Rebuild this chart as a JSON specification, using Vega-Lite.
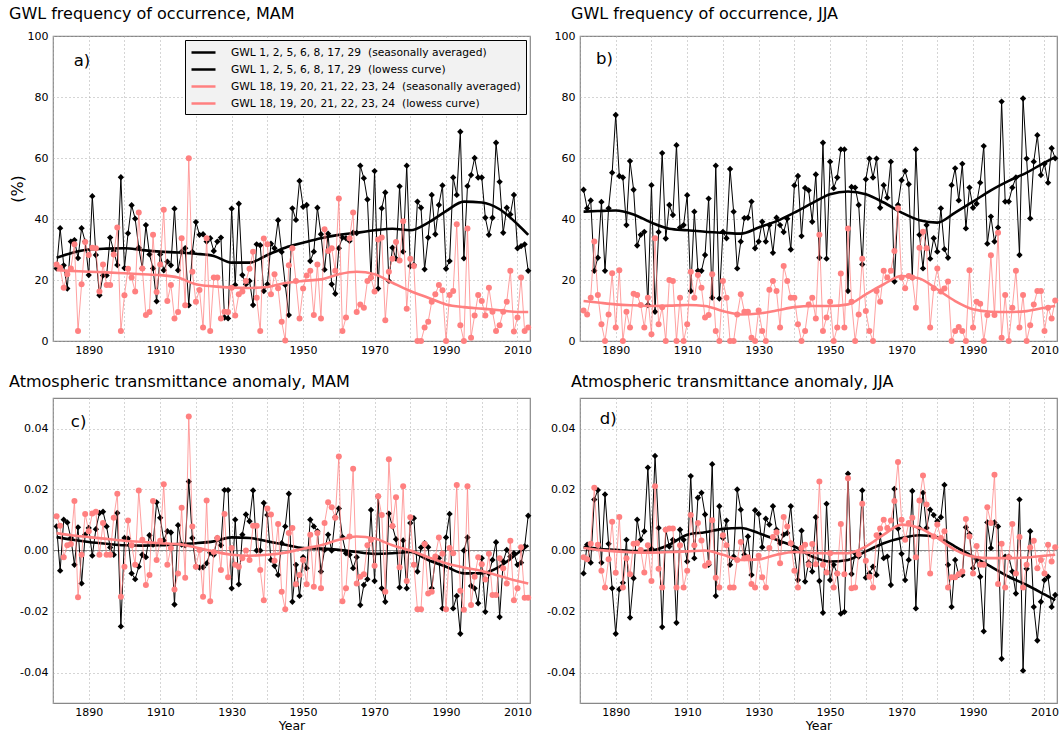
{
"$schema":"https://vega.github.io/schema/vega-lite/v6.json",
"padding":{"left":8,"top":5,"right":2,"bottom":0},
"config":{"font":"DejaVu Sans","view":{"stroke":"#888888","strokeWidth":1.2},
"axis":{"grid":true,"gridDash":[1,3],"gridColor":"#aaaaaa","gridWidth":1,"domain":false,"ticks":false,"labelFontSize":11,"labelColor":"#000000","titleColor":"#000000","titleFontWeight":"normal","labelPadding":5,"labelOverlap":false,"labelFlush":false},
"title":{"fontSize":16,"fontWeight":"normal","anchor":"start","frame":"group","offset":8,"color":"#000000"}},
"columns":2,
"spacing":{"row":57,"column":50},
"bounds":"flush",
"resolve":{"scale":{"color":"independent"},"legend":{"color":"independent"}},
"datasets":{
"a":[{"year":1881,"k":23.8,"r":25.1},{"year":1882,"k":37,"r":24},{"year":1883,"k":24.8,"r":17.5},{"year":1884,"k":17.2,"r":21.9},{"year":1885,"k":32.6,"r":23.8},{"year":1886,"k":33.1,"r":31.7},{"year":1887,"k":27.2,"r":3.3},{"year":1888,"k":37,"r":18.6},{"year":1889,"k":32.6,"r":32.5},{"year":1890,"k":21.6,"r":28.2},{"year":1891,"k":47.5,"r":30.6},{"year":1892,"k":28.2,"r":30.4},{"year":1893,"k":15,"r":16.2},{"year":1894,"k":21.5,"r":25.1},{"year":1895,"k":21.5,"r":18.4},{"year":1896,"k":33.9,"r":18.4},{"year":1897,"k":29.5,"r":28.4},{"year":1898,"k":24.9,"r":37.2},{"year":1899,"k":53.7,"r":3.3},{"year":1900,"k":23.9,"r":15},{"year":1901,"k":35.3,"r":23.7},{"year":1902,"k":44.5,"r":20.8},{"year":1903,"k":40.1,"r":16.2},{"year":1904,"k":30.6,"r":42.1},{"year":1905,"k":23.8,"r":23.8},{"year":1906,"k":38,"r":8.5},{"year":1907,"k":28.4,"r":9.5},{"year":1908,"k":23.8,"r":34.8},{"year":1909,"k":13,"r":16.1},{"year":1910,"k":28.4,"r":25.1},{"year":1911,"k":23.2,"r":43},{"year":1912,"k":26,"r":13.1},{"year":1913,"k":24.8,"r":18.4},{"year":1914,"k":43.4,"r":7.4},{"year":1915,"k":23.2,"r":9.5},{"year":1916,"k":29.3,"r":33.7},{"year":1917,"k":30.4,"r":11.7},{"year":1918,"k":11.7,"r":59.9},{"year":1919,"k":29.2,"r":22.7},{"year":1920,"k":39,"r":12.9},{"year":1921,"k":34.8,"r":16.7},{"year":1922,"k":35,"r":4.4},{"year":1923,"k":32.6,"r":33.7},{"year":1924,"k":33.7,"r":3.3},{"year":1925,"k":29.5,"r":20.8},{"year":1926,"k":32.6,"r":20.8},{"year":1927,"k":33.9,"r":7.4},{"year":1928,"k":7.7,"r":9.6},{"year":1929,"k":7.4,"r":9.5},{"year":1930,"k":43.4,"r":17.5},{"year":1931,"k":18.4,"r":8.4},{"year":1932,"k":45,"r":15.3},{"year":1933,"k":21.6,"r":16.2},{"year":1934,"k":18.6,"r":19.7},{"year":1935,"k":19.7,"r":23.7},{"year":1936,"k":11.8,"r":29.3},{"year":1937,"k":31.7,"r":14.2},{"year":1938,"k":31.4,"r":3.3},{"year":1939,"k":16.4,"r":33.6},{"year":1940,"k":18.6,"r":31.7},{"year":1941,"k":31.9,"r":15.3},{"year":1942,"k":30.4,"r":21.9},{"year":1943,"k":39.6,"r":17.3},{"year":1944,"k":29.2,"r":6.3},{"year":1945,"k":18.4,"r":0.2},{"year":1946,"k":8.5,"r":24.8},{"year":1947,"k":43.5,"r":30.4},{"year":1948,"k":39.7,"r":19.7},{"year":1949,"k":52.5,"r":7.4},{"year":1950,"k":44,"r":17.2},{"year":1951,"k":44.6,"r":21.5},{"year":1952,"k":26.2,"r":23},{"year":1953,"k":29.3,"r":8.5},{"year":1954,"k":43.7,"r":25.1},{"year":1955,"k":35,"r":7.4},{"year":1956,"k":23.4,"r":36.6},{"year":1957,"k":35.2,"r":29.5},{"year":1958,"k":18.6,"r":30.4},{"year":1959,"k":15.5,"r":23},{"year":1960,"k":30.4,"r":46.7},{"year":1961,"k":33.9,"r":3.3},{"year":1962,"k":33.7,"r":7.7},{"year":1963,"k":32.8,"r":33.7},{"year":1964,"k":35.5,"r":42.1},{"year":1965,"k":35.4,"r":9.5},{"year":1966,"k":57.5,"r":12},{"year":1967,"k":53.4,"r":10.9},{"year":1968,"k":46.4,"r":19.7},{"year":1969,"k":20.7,"r":20.8},{"year":1970,"k":55.7,"r":16.2},{"year":1971,"k":17.2,"r":33.3},{"year":1972,"k":43.5,"r":33.9},{"year":1973,"k":48.7,"r":6.8},{"year":1974,"k":19.7,"r":22.7},{"year":1975,"k":30.6,"r":27},{"year":1976,"k":27,"r":32.5},{"year":1977,"k":50.7,"r":26.4},{"year":1978,"k":29.3,"r":39.3},{"year":1979,"k":57.5,"r":10.6},{"year":1980,"k":24.6,"r":27},{"year":1981,"k":24.9,"r":24.6},{"year":1982,"k":45.7,"r":0},{"year":1983,"k":43.7,"r":0},{"year":1984,"k":23.5,"r":4.4},{"year":1985,"k":33.9,"r":6.3},{"year":1986,"k":47.9,"r":12.9},{"year":1987,"k":35,"r":15.3},{"year":1988,"k":44.6,"r":18.4},{"year":1989,"k":51,"r":16.6},{"year":1990,"k":23.7,"r":0},{"year":1991,"k":26.2,"r":15.1},{"year":1992,"k":53.6,"r":16.4},{"year":1993,"k":47.9,"r":38.3},{"year":1994,"k":68.6,"r":5.2},{"year":1995,"k":27.1,"r":0},{"year":1996,"k":50.8,"r":36.9},{"year":1997,"k":54.4,"r":1.1},{"year":1998,"k":60,"r":8.4},{"year":1999,"k":53.6,"r":15.1},{"year":2000,"k":53.6,"r":13.1},{"year":2001,"k":40.4,"r":8.4},{"year":2002,"k":34.8,"r":17.5},{"year":2003,"k":40.4,"r":9.6},{"year":2004,"k":65,"r":3.3},{"year":2005,"k":52.2,"r":5.2},{"year":2006,"k":35.5,"r":9.6},{"year":2007,"k":43.7,"r":12.9},{"year":2008,"k":41.5,"r":23},{"year":2009,"k":47.9,"r":3.1},{"year":2010,"k":30.4,"r":7.7},{"year":2011,"k":31.1,"r":20.8},{"year":2012,"k":31.7,"r":3.3},{"year":2013,"k":23,"r":4.4}],
"b":[{"year":1881,"k":49.6,"r":10},{"year":1882,"k":43.5,"r":8.7},{"year":1883,"k":46.1,"r":14.2},{"year":1884,"k":23,"r":32.6},{"year":1885,"k":27.3,"r":15.1},{"year":1886,"k":45.6,"r":5.5},{"year":1887,"k":23,"r":0},{"year":1888,"k":43.5,"r":8.7},{"year":1889,"k":55.2,"r":22.2},{"year":1890,"k":74.1,"r":4.4},{"year":1891,"k":54.1,"r":23.2},{"year":1892,"k":53.6,"r":0},{"year":1893,"k":38,"r":9.6},{"year":1894,"k":59,"r":4.4},{"year":1895,"k":49.6,"r":15.5},{"year":1896,"k":31.3,"r":15.1},{"year":1897,"k":34.8,"r":11.8},{"year":1898,"k":35.8,"r":4.4},{"year":1899,"k":11.8,"r":14.2},{"year":1900,"k":51.1,"r":2.2},{"year":1901,"k":9.6,"r":33.7},{"year":1902,"k":35.7,"r":5.5},{"year":1903,"k":61.6,"r":11.1},{"year":1904,"k":33.6,"r":0},{"year":1905,"k":44.6,"r":20},{"year":1906,"k":41.3,"r":19.7},{"year":1907,"k":64.2,"r":0},{"year":1908,"k":37.2,"r":14.2},{"year":1909,"k":38,"r":0},{"year":1910,"k":47.8,"r":5.5},{"year":1911,"k":16.4,"r":22.7},{"year":1912,"k":42.4,"r":14.2},{"year":1913,"k":23,"r":21.6},{"year":1914,"k":23,"r":17.5},{"year":1915,"k":28.2,"r":7.7},{"year":1916,"k":46.7,"r":8.5},{"year":1917,"k":14.2,"r":21.9},{"year":1918,"k":57.5,"r":3.3},{"year":1919,"k":13.9,"r":0},{"year":1920,"k":35.8,"r":19.7},{"year":1921,"k":33.7,"r":14.2},{"year":1922,"k":56.4,"r":0},{"year":1923,"k":42.4,"r":0},{"year":1924,"k":23.8,"r":8.7},{"year":1925,"k":32.6,"r":15.3},{"year":1926,"k":40.3,"r":9.6},{"year":1927,"k":40.4,"r":9.6},{"year":1928,"k":45.7,"r":1.1},{"year":1929,"k":30.4,"r":0},{"year":1930,"k":32.6,"r":10},{"year":1931,"k":39.1,"r":3.3},{"year":1932,"k":32.6,"r":0},{"year":1933,"k":38,"r":16.8},{"year":1934,"k":28.9,"r":19.7},{"year":1935,"k":40.4,"r":16.4},{"year":1936,"k":38,"r":4.4},{"year":1937,"k":35.7,"r":24.6},{"year":1938,"k":40.1,"r":19.7},{"year":1939,"k":30,"r":14.2},{"year":1940,"k":51,"r":14.2},{"year":1941,"k":54.1,"r":5.5},{"year":1942,"k":34.4,"r":0},{"year":1943,"k":50.2,"r":3.3},{"year":1944,"k":49.4,"r":12},{"year":1945,"k":39.1,"r":14.2},{"year":1946,"k":54.6,"r":7.4},{"year":1947,"k":27.3,"r":34.8},{"year":1948,"k":65,"r":3.3},{"year":1949,"k":27,"r":7.7},{"year":1950,"k":58.8,"r":12.9},{"year":1951,"k":50.1,"r":0},{"year":1952,"k":53.6,"r":4.4},{"year":1953,"k":62.8,"r":22.1},{"year":1954,"k":62.8,"r":4.4},{"year":1955,"k":16.4,"r":36.9},{"year":1956,"k":50.5,"r":12.9},{"year":1957,"k":50.3,"r":0},{"year":1958,"k":44.6,"r":8.7},{"year":1959,"k":25.1,"r":27},{"year":1960,"k":53,"r":9.8},{"year":1961,"k":59.8,"r":3.3},{"year":1962,"k":53.6,"r":0},{"year":1963,"k":59.8,"r":16.4},{"year":1964,"k":43.7,"r":12.9},{"year":1965,"k":51.1,"r":23},{"year":1966,"k":47,"r":20.8},{"year":1967,"k":58.8,"r":23},{"year":1968,"k":19.5,"r":29.5},{"year":1969,"k":44.6,"r":43.5},{"year":1970,"k":52.7,"r":20.8},{"year":1971,"k":55.7,"r":17.3},{"year":1972,"k":51.4,"r":21.3},{"year":1973,"k":20.8,"r":20.8},{"year":1974,"k":62.8,"r":10.9},{"year":1975,"k":34.8,"r":30.6},{"year":1976,"k":23.8,"r":35.8},{"year":1977,"k":38,"r":30.4},{"year":1978,"k":27,"r":4.4},{"year":1979,"k":33.7,"r":17.3},{"year":1980,"k":29.3,"r":23.8},{"year":1981,"k":43.5,"r":16.2},{"year":1982,"k":30.1,"r":17.2},{"year":1983,"k":27.3,"r":19.5},{"year":1984,"k":51.1,"r":0},{"year":1985,"k":56.6,"r":3.3},{"year":1986,"k":46.1,"r":4.6},{"year":1987,"k":58.1,"r":3.3},{"year":1988,"k":36.9,"r":0},{"year":1989,"k":50.3,"r":23.2},{"year":1990,"k":43.7,"r":4.4},{"year":1991,"k":45,"r":12.9},{"year":1992,"k":51.9,"r":12.2},{"year":1993,"k":63.9,"r":0},{"year":1994,"k":31.9,"r":8.5},{"year":1995,"k":40.8,"r":28.1},{"year":1996,"k":32.6,"r":8.5},{"year":1997,"k":37.2,"r":35.5},{"year":1998,"k":78.5,"r":1.1},{"year":1999,"k":45.7,"r":15.1},{"year":2000,"k":45.7,"r":0},{"year":2001,"k":50.3,"r":10.9},{"year":2002,"k":53.6,"r":23},{"year":2003,"k":28.2,"r":4.4},{"year":2004,"k":79.5,"r":15.1},{"year":2005,"k":59.8,"r":0},{"year":2006,"k":40.2,"r":5.2},{"year":2007,"k":58.8,"r":12},{"year":2008,"k":67.5,"r":16.4},{"year":2009,"k":54.4,"r":16.4},{"year":2010,"k":58.1,"r":3.3},{"year":2011,"k":51.9,"r":10.9},{"year":2012,"k":63.2,"r":7.4},{"year":2013,"k":59.9,"r":13.3}],
"c":[{"year":1881,"k":0.0079,"r":0.0112},{"year":1882,"k":-0.0066,"r":0.0081},{"year":1883,"k":0.0101,"r":-0.0022},{"year":1884,"k":0.0092,"r":0.0017},{"year":1885,"k":0.0041,"r":0.0021},{"year":1886,"k":-0.0047,"r":0.0162},{"year":1887,"k":0.0076,"r":-0.0153},{"year":1888,"k":-0.0108,"r":-0.0014},{"year":1889,"k":0.0052,"r":0.012},{"year":1890,"k":0.0074,"r":0.0063},{"year":1891,"k":-0.0017,"r":0.0121},{"year":1892,"k":0.007,"r":0.0127},{"year":1893,"k":0.0123,"r":-0.0014},{"year":1894,"k":0.0127,"r":0.009},{"year":1895,"k":0.0079,"r":-0.0014},{"year":1896,"k":0.001,"r":-0.0014},{"year":1897,"k":-0.0014,"r":0.0107},{"year":1898,"k":0.0123,"r":0.0186},{"year":1899,"k":-0.0249,"r":-0.0152},{"year":1900,"k":0.0041,"r":-0.0053},{"year":1901,"k":0.0039,"r":0.0098},{"year":1902,"k":-0.0075,"r":0.0017},{"year":1903,"k":-0.0094,"r":-0.0047},{"year":1904,"k":-0.0053,"r":0.0197},{"year":1905,"k":-0.0014,"r":0.0035},{"year":1906,"k":-0.0022,"r":-0.0113},{"year":1907,"k":0.005,"r":-0.008},{"year":1908,"k":0.0019,"r":0.0162},{"year":1909,"k":0.0158,"r":-0.0031},{"year":1910,"k":0.0107,"r":0.0032},{"year":1911,"k":0.0033,"r":0.0217},{"year":1912,"k":0.0063,"r":-0.0047},{"year":1913,"k":0.0059,"r":0.0008},{"year":1914,"k":-0.0177,"r":-0.0128},{"year":1915,"k":0.0083,"r":-0.0075},{"year":1916,"k":0.0019,"r":0.014},{"year":1917,"k":0.0017,"r":-0.0089},{"year":1918,"k":0.0226,"r":0.0439},{"year":1919,"k":0.0041,"r":0.0079},{"year":1920,"k":-0.0053,"r":-0.0053},{"year":1921,"k":-0.0056,"r":0.0002},{"year":1922,"k":-0.0055,"r":-0.0152},{"year":1923,"k":-0.0042,"r":0.0164},{"year":1924,"k":-0.0007,"r":-0.0166},{"year":1925,"k":-0.0014,"r":-0.0005},{"year":1926,"k":0.0041,"r":0.0041},{"year":1927,"k":0.0017,"r":-0.0064},{"year":1928,"k":0.0198,"r":0.012},{"year":1929,"k":0.0198,"r":-0.0088},{"year":1930,"k":-0.0124,"r":0.0008},{"year":1931,"k":0.0101,"r":-0.0047},{"year":1932,"k":-0.0111,"r":-0.0053},{"year":1933,"k":0.0052,"r":-0.0025},{"year":1934,"k":0.0118,"r":0},{"year":1935,"k":0.0096,"r":-0.0031},{"year":1936,"k":0.0197,"r":0.0081},{"year":1937,"k":0,"r":0.0081},{"year":1938,"k":0,"r":-0.0064},{"year":1939,"k":0.0156,"r":-0.0163},{"year":1940,"k":0.0116,"r":0.0138},{"year":1941,"k":-0.0031,"r":0.0118},{"year":1942,"k":-0.005,"r":-0.0034},{"year":1943,"k":-0.008,"r":0.0087},{"year":1944,"k":0.0024,"r":-0.0135},{"year":1945,"k":0.0079,"r":-0.0193},{"year":1946,"k":0.0186,"r":0.0057},{"year":1947,"k":-0.0168,"r":0.0074},{"year":1948,"k":-0.0047,"r":-0.0111},{"year":1949,"k":-0.0149,"r":-0.008},{"year":1950,"k":-0.0022,"r":-0.0031},{"year":1951,"k":-0.0058,"r":-0.0111},{"year":1952,"k":0.0101,"r":0.0052},{"year":1953,"k":0.0079,"r":-0.0119},{"year":1954,"k":0.0063,"r":0.0057},{"year":1955,"k":-0.0069,"r":-0.0124},{"year":1956,"k":0.0002,"r":0.009},{"year":1957,"k":0.0052,"r":0.0158},{"year":1958,"k":0,"r":0.0142},{"year":1959,"k":0.0109,"r":0.0107},{"year":1960,"k":0.0138,"r":0.0308},{"year":1961,"k":0.0044,"r":-0.0166},{"year":1962,"k":-0.0009,"r":-0.0124},{"year":1963,"k":-0.0014,"r":0.0046},{"year":1964,"k":-0.0058,"r":0.0268},{"year":1965,"k":-0.0022,"r":-0.0108},{"year":1966,"k":-0.0179,"r":-0.0086},{"year":1967,"k":-0.0113,"r":-0.0078},{"year":1968,"k":-0.0094,"r":0.0017},{"year":1969,"k":0.0133,"r":0.0035},{"year":1970,"k":-0.01,"r":-0.005},{"year":1971,"k":0.0177,"r":0.0178},{"year":1972,"k":-0.0124,"r":0.0116},{"year":1973,"k":-0.0168,"r":-0.0135},{"year":1974,"k":0.0121,"r":0.0299},{"year":1975,"k":0.0079,"r":0.008},{"year":1976,"k":0.0037,"r":0.0175},{"year":1977,"k":-0.0121,"r":-0.0055},{"year":1978,"k":0.0033,"r":0.0211},{"year":1979,"k":-0.0124,"r":-0.01},{"year":1980,"k":0.009,"r":0.0109},{"year":1981,"k":0.0106,"r":-0.0047},{"year":1982,"k":-0.0069,"r":-0.0193},{"year":1983,"k":0.001,"r":-0.0193},{"year":1984,"k":0.0024,"r":0.0021},{"year":1985,"k":0.0011,"r":-0.0141},{"year":1986,"k":-0.0124,"r":-0.0135},{"year":1987,"k":-0.0031,"r":-0.002},{"year":1988,"k":-0.0025,"r":0.0043},{"year":1989,"k":-0.019,"r":-0.0011},{"year":1990,"k":0.0043,"r":-0.0193},{"year":1991,"k":0.012,"r":0.0008},{"year":1992,"k":-0.019,"r":-0.0009},{"year":1993,"k":-0.0149,"r":0.0215},{"year":1994,"k":-0.0273,"r":-0.0132},{"year":1995,"k":0,"r":-0.0194},{"year":1996,"k":0.0043,"r":0.0211},{"year":1997,"k":-0.0116,"r":-0.0179},{"year":1998,"k":-0.0124,"r":-0.0086},{"year":1999,"k":-0.0173,"r":-0.0022},{"year":2000,"k":-0.0025,"r":-0.0045},{"year":2001,"k":-0.0201,"r":-0.0095},{"year":2002,"k":-0.0075,"r":-0.0011},{"year":2003,"k":-0.0031,"r":-0.0146},{"year":2004,"k":0.0027,"r":-0.0146},{"year":2005,"k":-0.0218,"r":-0.0025},{"year":2006,"k":-0.0036,"r":-0.0058},{"year":2007,"k":0.0002,"r":-0.0108},{"year":2008,"k":-0.002,"r":0.0032},{"year":2009,"k":-0.0009,"r":-0.0163},{"year":2010,"k":-0.0047,"r":-0.0124},{"year":2011,"k":-0.004,"r":0.0011},{"year":2012,"k":0.0013,"r":-0.0155},{"year":2013,"k":0.0114,"r":-0.0155}],
"d":[{"year":1881,"k":-0.0075,"r":-0.0022},{"year":1882,"k":0.0019,"r":-0.0029},{"year":1883,"k":-0.004,"r":0.0022},{"year":1884,"k":0.0167,"r":0.0206},{"year":1885,"k":0.0198,"r":0.0019},{"year":1886,"k":-0.004,"r":-0.0066},{"year":1887,"k":0.0184,"r":-0.0121},{"year":1888,"k":0.0022,"r":-0.0029},{"year":1889,"k":-0.0124,"r":0.0094},{"year":1890,"k":-0.0273,"r":-0.0073},{"year":1891,"k":-0.0127,"r":0.011},{"year":1892,"k":-0.0106,"r":-0.0121},{"year":1893,"k":0.0035,"r":-0.0025},{"year":1894,"k":-0.022,"r":-0.0078},{"year":1895,"k":-0.0091,"r":0.0022},{"year":1896,"k":0.0101,"r":0.0024},{"year":1897,"k":0.0035,"r":0.0002},{"year":1898,"k":0.0063,"r":-0.0072},{"year":1899,"k":0.0272,"r":0.0017},{"year":1900,"k":0.0006,"r":-0.01},{"year":1901,"k":0.031,"r":0.0211},{"year":1902,"k":0.0074,"r":-0.006},{"year":1903,"k":-0.0251,"r":-0.0121},{"year":1904,"k":0.0068,"r":0.0068},{"year":1905,"k":0.0013,"r":0.0072},{"year":1906,"k":0.0035,"r":0.0072},{"year":1907,"k":-0.0237,"r":-0.0121},{"year":1908,"k":0.0068,"r":0.0017},{"year":1909,"k":0.0035,"r":-0.0121},{"year":1910,"k":-0.0036,"r":-0.0066},{"year":1911,"k":0.0244,"r":0.0116},{"year":1912,"k":-0.0025,"r":0.0017},{"year":1913,"k":0.0173,"r":0.009},{"year":1914,"k":0.0189,"r":0.0033},{"year":1915,"k":0.0118,"r":-0.005},{"year":1916,"k":-0.0047,"r":-0.0041},{"year":1917,"k":0.0283,"r":0.0099},{"year":1918,"k":-0.0149,"r":-0.0089},{"year":1919,"k":0.0145,"r":-0.0121},{"year":1920,"k":0.0041,"r":0.005},{"year":1921,"k":0.0098,"r":0.0017},{"year":1922,"k":-0.0047,"r":-0.0121},{"year":1923,"k":-0.002,"r":-0.0121},{"year":1924,"k":0.02,"r":-0.0031},{"year":1925,"k":0.0134,"r":0.0028},{"year":1926,"k":-0.0014,"r":-0.0025},{"year":1927,"k":0.0046,"r":-0.0022},{"year":1928,"k":-0.008,"r":-0.011},{"year":1929,"k":0.0132,"r":-0.0121},{"year":1930,"k":0.012,"r":-0.0017},{"year":1931,"k":0.0011,"r":-0.0088},{"year":1932,"k":0.0104,"r":-0.0121},{"year":1933,"k":0.0085,"r":0.0008},{"year":1934,"k":0.0145,"r":0.0044},{"year":1935,"k":0.0068,"r":0.006},{"year":1936,"k":0.0024,"r":-0.0042},{"year":1937,"k":0.0052,"r":0.011},{"year":1938,"k":0.0057,"r":0.0079},{"year":1939,"k":0.0145,"r":0.0024},{"year":1940,"k":-0.0003,"r":-0.0066},{"year":1941,"k":-0.0097,"r":-0.0121},{"year":1942,"k":0.0065,"r":0.0008},{"year":1943,"k":-0.0102,"r":0.0019},{"year":1944,"k":-0.0039,"r":-0.0047},{"year":1945,"k":-0.0069,"r":0.0021},{"year":1946,"k":0.0109,"r":-0.0045},{"year":1947,"k":-0.01,"r":0.0226},{"year":1948,"k":-0.0204,"r":-0.0047},{"year":1949,"k":0.0153,"r":-0.0072},{"year":1950,"k":-0.0097,"r":-0.0009},{"year":1951,"k":-0.0047,"r":-0.0121},{"year":1952,"k":-0.0075,"r":-0.0075},{"year":1953,"k":-0.0207,"r":0.0087},{"year":1954,"k":-0.0201,"r":-0.0078},{"year":1955,"k":0.0252,"r":0.0237},{"year":1956,"k":-0.0077,"r":-0.0124},{"year":1957,"k":-0.0009,"r":-0.0121},{"year":1958,"k":-0.002,"r":-0.0012},{"year":1959,"k":0.0197,"r":0.0153},{"year":1960,"k":-0.0089,"r":-0.0034},{"year":1961,"k":-0.0075,"r":-0.0086},{"year":1962,"k":-0.0053,"r":-0.0121},{"year":1963,"k":-0.008,"r":0.005},{"year":1964,"k":0.005,"r":0.0072},{"year":1965,"k":-0.0025,"r":0.0101},{"year":1966,"k":-0.002,"r":0.0074},{"year":1967,"k":-0.0113,"r":0.0098},{"year":1968,"k":0.0202,"r":0.0162},{"year":1969,"k":0.0072,"r":0.029},{"year":1970,"k":-0.0011,"r":0.0101},{"year":1971,"k":-0.0097,"r":0.0035},{"year":1972,"k":-0.0031,"r":0.009},{"year":1973,"k":0.0195,"r":0.0107},{"year":1974,"k":-0.019,"r":-0.0022},{"year":1975,"k":0.0074,"r":0.0164},{"year":1976,"k":0.0189,"r":0.0246},{"year":1977,"k":0.0074,"r":0.0151},{"year":1978,"k":0.0134,"r":-0.0075},{"year":1979,"k":0.0116,"r":0.0046},{"year":1980,"k":0.0096,"r":0.0085},{"year":1981,"k":0.0109,"r":0.0041},{"year":1982,"k":0.0215,"r":0.0063},{"year":1983,"k":-0.0047,"r":-0.0121},{"year":1984,"k":-0.0185,"r":-0.0088},{"year":1985,"k":-0.0031,"r":-0.0088},{"year":1986,"k":-0.008,"r":-0.0078},{"year":1987,"k":-0.008,"r":-0.0069},{"year":1988,"k":0.0076,"r":0.0103},{"year":1989,"k":0.0054,"r":0.0046},{"year":1990,"k":-0.0058,"r":-0.0075},{"year":1991,"k":-0.0029,"r":0.0015},{"year":1992,"k":-0.0086,"r":-0.0047},{"year":1993,"k":-0.0265,"r":-0.0047},{"year":1994,"k":0.0092,"r":0.0142},{"year":1995,"k":0.0008,"r":0.009},{"year":1996,"k":0.0092,"r":0.0248},{"year":1997,"k":0.0079,"r":-0.011},{"year":1998,"k":-0.0355,"r":0.0022},{"year":1999,"k":-0.002,"r":-0.0121},{"year":2000,"k":-0.002,"r":-0.0022},{"year":2001,"k":-0.0069,"r":0.0087},{"year":2002,"k":-0.0141,"r":-0.0075},{"year":2003,"k":0.0167,"r":0.0044},{"year":2004,"k":-0.0394,"r":-0.0121},{"year":2005,"k":-0.006,"r":-0.0047},{"year":2006,"k":0.0063,"r":0.001},{"year":2007,"k":-0.0185,"r":0.0032},{"year":2008,"k":-0.0295,"r":-0.0058},{"year":2009,"k":-0.0168,"r":-0.0031},{"year":2010,"k":-0.0097,"r":-0.0075},{"year":2011,"k":-0.0086,"r":0.0019},{"year":2012,"k":-0.0185,"r":-0.0036},{"year":2013,"k":-0.0146,"r":0.0011}],
"al":[{"year":1881,"k":27.3,"r":23.2},{"year":1885,"k":28.8,"r":23},{"year":1890,"k":30,"r":22.7},{"year":1895,"k":30.3,"r":22.5},{"year":1900,"k":30.4,"r":22.2},{"year":1905,"k":29.8,"r":21.9},{"year":1910,"k":29.3,"r":21.6},{"year":1915,"k":29,"r":20.8},{"year":1920,"k":28.6,"r":18.6},{"year":1925,"k":27.9,"r":17.9},{"year":1930,"k":25.7,"r":17.5},{"year":1935,"k":25.7,"r":17.4},{"year":1940,"k":28.2,"r":17.7},{"year":1945,"k":30.6,"r":19},{"year":1950,"k":32.2,"r":19.7},{"year":1955,"k":33.7,"r":20.2},{"year":1960,"k":34.8,"r":21.9},{"year":1965,"k":35.5,"r":22.7},{"year":1970,"k":36.3,"r":21.9},{"year":1975,"k":36.8,"r":19.1},{"year":1980,"k":36.3,"r":16.4},{"year":1985,"k":38.8,"r":14.2},{"year":1990,"k":42.6,"r":12},{"year":1995,"k":45.7,"r":11.1},{"year":2000,"k":45.4,"r":10.6},{"year":2005,"k":43.2,"r":10.1},{"year":2010,"k":38.3,"r":9.5},{"year":2013,"k":34.8,"r":9.5}],
"bl":[{"year":1881,"k":42.4,"r":13.1},{"year":1885,"k":42.6,"r":12.6},{"year":1890,"k":42.8,"r":12},{"year":1895,"k":41.5,"r":11.7},{"year":1900,"k":38.8,"r":11.5},{"year":1905,"k":36.8,"r":11.6},{"year":1910,"k":36.3,"r":11.8},{"year":1915,"k":35.8,"r":11.5},{"year":1920,"k":35.5,"r":9.8},{"year":1925,"k":35.2,"r":8.7},{"year":1930,"k":37.2,"r":9},{"year":1935,"k":39.3,"r":10},{"year":1940,"k":42.1,"r":11.1},{"year":1945,"k":45.2,"r":11.5},{"year":1950,"k":48.1,"r":11.5},{"year":1955,"k":49,"r":12},{"year":1960,"k":48.1,"r":15.3},{"year":1965,"k":45.4,"r":18.6},{"year":1970,"k":42.1,"r":21.3},{"year":1975,"k":39.6,"r":20.5},{"year":1980,"k":38.8,"r":16.9},{"year":1985,"k":42.1,"r":13.1},{"year":1990,"k":45.7,"r":10.4},{"year":1995,"k":49.4,"r":9.6},{"year":2000,"k":52.5,"r":9.5},{"year":2005,"k":55.2,"r":9.8},{"year":2010,"k":58.5,"r":10.9},{"year":2013,"k":60.3,"r":11.5}],
"cl":[{"year":1881,"k":0.0044,"r":0.0057},{"year":1885,"k":0.0036,"r":0.005},{"year":1890,"k":0.0028,"r":0.0044},{"year":1895,"k":0.0022,"r":0.0038},{"year":1900,"k":0.0017,"r":0.0032},{"year":1905,"k":0.0016,"r":0.0028},{"year":1910,"k":0.0017,"r":0.0024},{"year":1915,"k":0.0021,"r":0.0021},{"year":1920,"k":0.0024,"r":0.001},{"year":1925,"k":0.003,"r":-0.0003},{"year":1930,"k":0.0043,"r":-0.0014},{"year":1935,"k":0.0041,"r":-0.0017},{"year":1940,"k":0.003,"r":-0.0014},{"year":1945,"k":0.0019,"r":-0.0007},{"year":1950,"k":0.0008,"r":0.0006},{"year":1955,"k":0.0006,"r":0.0017},{"year":1960,"k":0.0002,"r":0.0035},{"year":1965,"k":-0.0005,"r":0.0046},{"year":1970,"k":-0.0011,"r":0.0039},{"year":1975,"k":-0.0009,"r":0.0017},{"year":1980,"k":-0.0005,"r":0},{"year":1985,"k":-0.0031,"r":-0.0022},{"year":1990,"k":-0.0053,"r":-0.0042},{"year":1995,"k":-0.0075,"r":-0.0056},{"year":2000,"k":-0.0075,"r":-0.0067},{"year":2005,"k":-0.0053,"r":-0.0084},{"year":2010,"k":-0.0009,"r":-0.01},{"year":2013,"k":0.0017,"r":-0.0108}],
"dl":[{"year":1881,"k":0.0011,"r":0.0008},{"year":1885,"k":0.0006,"r":0.0002},{"year":1890,"k":0.0002,"r":-0.0003},{"year":1895,"k":-0.0002,"r":-0.0006},{"year":1900,"k":0,"r":-0.0007},{"year":1905,"k":0.0019,"r":-0.0005},{"year":1910,"k":0.0052,"r":-0.0003},{"year":1915,"k":0.006,"r":0},{"year":1920,"k":0.0071,"r":-0.0014},{"year":1925,"k":0.0074,"r":-0.0031},{"year":1930,"k":0.0057,"r":-0.0029},{"year":1935,"k":0.0035,"r":-0.0014},{"year":1940,"k":0.0013,"r":-0.0005},{"year":1945,"k":-0.002,"r":-0.0008},{"year":1950,"k":-0.0036,"r":-0.0009},{"year":1955,"k":-0.0031,"r":-0.0009},{"year":1960,"k":-0.0003,"r":0.0013},{"year":1965,"k":0.0024,"r":0.0052},{"year":1970,"k":0.0041,"r":0.0085},{"year":1975,"k":0.005,"r":0.0074},{"year":1980,"k":0.0043,"r":0.0041},{"year":1985,"k":0.0013,"r":0.0002},{"year":1990,"k":-0.002,"r":-0.002},{"year":1995,"k":-0.0053,"r":-0.0025},{"year":2000,"k":-0.0086,"r":-0.0025},{"year":2005,"k":-0.0113,"r":-0.0023},{"year":2010,"k":-0.0144,"r":-0.0017},{"year":2013,"k":-0.0163,"r":-0.0014}]
},
"concat":[
{"width":477,"height":305,"title":{"text":"GWL frequency of occurrence, MAM","dx":-44},
"resolve":{"axis":{"x":"independent"}},
"layer":[
{"data":{"name":"a"},"mark":{"type":"line","strokeWidth":1},"encoding":{
"x":{"field":"year","type":"quantitative","scale":{"domain":[1880,2013.5],"nice":false,"zero":false},"axis":{"values":[1890,1910,1930,1950,1970,1990,2010],"format":"d","grid":false,"title":null,"labelPadding":3,"labelOverlap":false,"labelFlush":false}},
"y":{"field":"k","type":"quantitative","scale":{"domain":[0,100],"nice":false},"axis":{"values":[0,20,40,60,80,100],"title":"(%)","titleFontSize":16,"titlePadding":2}},
"color":{"datum":"GWL 1, 2, 5, 6, 8, 17, 29 \u00a0(seasonally averaged)","type":"nominal","scale":{"domain":["GWL 1, 2, 5, 6, 8, 17, 29 \u00a0(seasonally averaged)","GWL 1, 2, 5, 6, 8, 17, 29 \u00a0(lowess curve)","GWL 18, 19, 20, 21, 22, 23, 24 \u00a0(seasonally averaged)","GWL 18, 19, 20, 21, 22, 23, 24 \u00a0(lowess curve)"],"range":["#000000","#000000","#ff8080","#ff8080"]},
"legend":{"title":null,"orient":"top-right","offset":4,"fillColor":"#f2f2f2","strokeColor":"#000000","padding":5,"symbolSize":144,"symbolType":"M-1,0H3","symbolStrokeWidth":2.5,"symbolOpacity":1,"labelFontSize":10.7,"labelOffset":26,"rowPadding":4,"labelLimit":500,"labelColor":"#000000"}}}},
{"data":{"name":"a"},"mark":{"type":"point","shape":"diamond","filled":true,"size":40,"opacity":1},"encoding":{"x":{"field":"year","type":"quantitative","scale":{"domain":[1880,2013.5]},"axis":{"orient":"top","values":[1880,1890,1900,1910,1920,1930,1940,1950,1960,1970,1980,1990,2000,2010],"grid":true,"labels":false,"ticks":false,"domain":false,"title":null}},"y":{"field":"k","type":"quantitative","scale":{"domain":[0,100]}},"color":{"datum":"GWL 1, 2, 5, 6, 8, 17, 29 \u00a0(seasonally averaged)","type":"nominal"}}},
{"data":{"name":"al"},"mark":{"type":"line","strokeWidth":2.6,"interpolate":"monotone"},"encoding":{"x":{"field":"year","type":"quantitative","scale":{"domain":[1880,2013.5]},"axis":null},"y":{"field":"k","type":"quantitative","scale":{"domain":[0,100]}},"color":{"datum":"GWL 1, 2, 5, 6, 8, 17, 29 \u00a0(lowess curve)","type":"nominal"}}},
{"data":{"name":"a"},"mark":{"type":"line","strokeWidth":1,"opacity":0.75},"encoding":{"x":{"field":"year","type":"quantitative","scale":{"domain":[1880,2013.5]},"axis":null},"y":{"field":"r","type":"quantitative","scale":{"domain":[0,100]}},"color":{"datum":"GWL 18, 19, 20, 21, 22, 23, 24 \u00a0(seasonally averaged)","type":"nominal"}}},
{"data":{"name":"a"},"mark":{"type":"point","shape":"circle","filled":true,"size":36,"opacity":1},"encoding":{"x":{"field":"year","type":"quantitative","scale":{"domain":[1880,2013.5]},"axis":null},"y":{"field":"r","type":"quantitative","scale":{"domain":[0,100]}},"color":{"datum":"GWL 18, 19, 20, 21, 22, 23, 24 \u00a0(seasonally averaged)","type":"nominal"}}},
{"data":{"name":"al"},"mark":{"type":"line","strokeWidth":2.6,"interpolate":"monotone"},"encoding":{"x":{"field":"year","type":"quantitative","scale":{"domain":[1880,2013.5]},"axis":null},"y":{"field":"r","type":"quantitative","scale":{"domain":[0,100]}},"color":{"datum":"GWL 18, 19, 20, 21, 22, 23, 24 \u00a0(lowess curve)","type":"nominal"}}},
{"data":{"values":[{"t":"a)"}]},"mark":{"type":"text","fontSize":16.5,"align":"left","baseline":"middle","color":"#000000"},"encoding":{"x":{"datum":1885.8,"type":"quantitative","scale":{"domain":[1880,2013.5]},"axis":null},"y":{"datum":91.8,"type":"quantitative","scale":{"domain":[0,100]}},"text":{"field":"t"}}}
]},
{"width":477,"height":305,"title":{"text":"GWL frequency of occurrence, JJA","dx":-9},
"resolve":{"axis":{"x":"independent"}},
"layer":[
{"data":{"name":"b"},"mark":{"type":"line","strokeWidth":1,"color":"#000000"},"encoding":{
"x":{"field":"year","type":"quantitative","scale":{"domain":[1880,2013.5],"nice":false,"zero":false},"axis":{"values":[1890,1910,1930,1950,1970,1990,2010],"format":"d","grid":false,"title":null,"labelPadding":3,"labelOverlap":false,"labelFlush":false}},
"y":{"field":"k","type":"quantitative","scale":{"domain":[0,100],"nice":false},"axis":{"values":[0,20,40,60,80,100],"title":null}}}},
{"data":{"name":"b"},"mark":{"type":"point","shape":"diamond","filled":true,"size":40,"opacity":1,"color":"#000000"},"encoding":{"x":{"field":"year","type":"quantitative","scale":{"domain":[1880,2013.5]},"axis":{"orient":"top","values":[1880,1890,1900,1910,1920,1930,1940,1950,1960,1970,1980,1990,2000,2010],"grid":true,"labels":false,"ticks":false,"domain":false,"title":null}},"y":{"field":"k","type":"quantitative","scale":{"domain":[0,100]}}}},
{"data":{"name":"bl"},"mark":{"type":"line","strokeWidth":2.6,"interpolate":"monotone","color":"#000000"},"encoding":{"x":{"field":"year","type":"quantitative","scale":{"domain":[1880,2013.5]},"axis":null},"y":{"field":"k","type":"quantitative","scale":{"domain":[0,100]}}}},
{"data":{"name":"b"},"mark":{"type":"line","strokeWidth":1,"opacity":0.75,"color":"#ff8080"},"encoding":{"x":{"field":"year","type":"quantitative","scale":{"domain":[1880,2013.5]},"axis":null},"y":{"field":"r","type":"quantitative","scale":{"domain":[0,100]}}}},
{"data":{"name":"b"},"mark":{"type":"point","shape":"circle","filled":true,"size":36,"opacity":1,"color":"#ff8080"},"encoding":{"x":{"field":"year","type":"quantitative","scale":{"domain":[1880,2013.5]},"axis":null},"y":{"field":"r","type":"quantitative","scale":{"domain":[0,100]}}}},
{"data":{"name":"bl"},"mark":{"type":"line","strokeWidth":2.6,"interpolate":"monotone","color":"#ff8080"},"encoding":{"x":{"field":"year","type":"quantitative","scale":{"domain":[1880,2013.5]},"axis":null},"y":{"field":"r","type":"quantitative","scale":{"domain":[0,100]}}}},
{"data":{"values":[{"t":"b)"}]},"mark":{"type":"text","fontSize":16.5,"align":"left","baseline":"middle","color":"#000000"},"encoding":{"x":{"datum":1884.5,"type":"quantitative","scale":{"domain":[1880,2013.5]},"axis":null},"y":{"datum":92.5,"type":"quantitative","scale":{"domain":[0,100]}},"text":{"field":"t"}}}
]},
{"width":477,"height":305,"title":{"text":"Atmospheric transmittance anomaly, MAM","dx":-44},
"resolve":{"axis":{"x":"independent"}},
"layer":[
{"data":{"values":[{"z":0}]},"mark":{"type":"rule","color":"#888888","strokeWidth":1},"encoding":{"y":{"field":"z","type":"quantitative","scale":{"domain":[-0.05,0.05]}}}},
{"data":{"name":"c"},"mark":{"type":"line","strokeWidth":1,"color":"#000000"},"encoding":{
"x":{"field":"year","type":"quantitative","scale":{"domain":[1880,2013.5],"nice":false,"zero":false},"axis":{"values":[1890,1910,1930,1950,1970,1990,2010],"format":"d","grid":false,"title":"Year","titleFontSize":12.5,"titlePadding":2,"labelPadding":3,"labelOverlap":false,"labelFlush":false}},
"y":{"field":"k","type":"quantitative","scale":{"domain":[-0.05,0.05],"nice":false},"axis":{"values":[-0.04,-0.02,0,0.02,0.04],"labelExpr":"(datum.value<0?'-':'')+format(abs(datum.value),'.2f')","title":null}}}},
{"data":{"name":"c"},"mark":{"type":"point","shape":"diamond","filled":true,"size":40,"opacity":1,"color":"#000000"},"encoding":{"x":{"field":"year","type":"quantitative","scale":{"domain":[1880,2013.5]},"axis":{"orient":"top","values":[1880,1890,1900,1910,1920,1930,1940,1950,1960,1970,1980,1990,2000,2010],"grid":true,"labels":false,"ticks":false,"domain":false,"title":null}},"y":{"field":"k","type":"quantitative","scale":{"domain":[-0.05,0.05]}}}},
{"data":{"name":"cl"},"mark":{"type":"line","strokeWidth":2.6,"interpolate":"monotone","color":"#000000"},"encoding":{"x":{"field":"year","type":"quantitative","scale":{"domain":[1880,2013.5]},"axis":null},"y":{"field":"k","type":"quantitative","scale":{"domain":[-0.05,0.05]}}}},
{"data":{"name":"c"},"mark":{"type":"line","strokeWidth":1,"opacity":0.75,"color":"#ff8080"},"encoding":{"x":{"field":"year","type":"quantitative","scale":{"domain":[1880,2013.5]},"axis":null},"y":{"field":"r","type":"quantitative","scale":{"domain":[-0.05,0.05]}}}},
{"data":{"name":"c"},"mark":{"type":"point","shape":"circle","filled":true,"size":36,"opacity":1,"color":"#ff8080"},"encoding":{"x":{"field":"year","type":"quantitative","scale":{"domain":[1880,2013.5]},"axis":null},"y":{"field":"r","type":"quantitative","scale":{"domain":[-0.05,0.05]}}}},
{"data":{"name":"cl"},"mark":{"type":"line","strokeWidth":2.6,"interpolate":"monotone","color":"#ff8080"},"encoding":{"x":{"field":"year","type":"quantitative","scale":{"domain":[1880,2013.5]},"axis":null},"y":{"field":"r","type":"quantitative","scale":{"domain":[-0.05,0.05]}}}},
{"data":{"values":[{"t":"c)"}]},"mark":{"type":"text","fontSize":16.5,"align":"left","baseline":"middle","color":"#000000"},"encoding":{"x":{"datum":1885,"type":"quantitative","scale":{"domain":[1880,2013.5]},"axis":null},"y":{"datum":0.042,"type":"quantitative","scale":{"domain":[-0.05,0.05]}},"text":{"field":"t"}}}
]},
{"width":477,"height":305,"title":{"text":"Atmospheric transmittance anomaly, JJA","dx":-9},
"resolve":{"axis":{"x":"independent"}},
"layer":[
{"data":{"values":[{"z":0}]},"mark":{"type":"rule","color":"#888888","strokeWidth":1},"encoding":{"y":{"field":"z","type":"quantitative","scale":{"domain":[-0.05,0.05]}}}},
{"data":{"name":"d"},"mark":{"type":"line","strokeWidth":1,"color":"#000000"},"encoding":{
"x":{"field":"year","type":"quantitative","scale":{"domain":[1880,2013.5],"nice":false,"zero":false},"axis":{"values":[1890,1910,1930,1950,1970,1990,2010],"format":"d","grid":false,"title":"Year","titleFontSize":12.5,"titlePadding":2,"labelPadding":3,"labelOverlap":false,"labelFlush":false}},
"y":{"field":"k","type":"quantitative","scale":{"domain":[-0.05,0.05],"nice":false},"axis":{"values":[-0.04,-0.02,0,0.02,0.04],"labelExpr":"(datum.value<0?'-':'')+format(abs(datum.value),'.2f')","title":null}}}},
{"data":{"name":"d"},"mark":{"type":"point","shape":"diamond","filled":true,"size":40,"opacity":1,"color":"#000000"},"encoding":{"x":{"field":"year","type":"quantitative","scale":{"domain":[1880,2013.5]},"axis":{"orient":"top","values":[1880,1890,1900,1910,1920,1930,1940,1950,1960,1970,1980,1990,2000,2010],"grid":true,"labels":false,"ticks":false,"domain":false,"title":null}},"y":{"field":"k","type":"quantitative","scale":{"domain":[-0.05,0.05]}}}},
{"data":{"name":"dl"},"mark":{"type":"line","strokeWidth":2.6,"interpolate":"monotone","color":"#000000"},"encoding":{"x":{"field":"year","type":"quantitative","scale":{"domain":[1880,2013.5]},"axis":null},"y":{"field":"k","type":"quantitative","scale":{"domain":[-0.05,0.05]}}}},
{"data":{"name":"d"},"mark":{"type":"line","strokeWidth":1,"opacity":0.75,"color":"#ff8080"},"encoding":{"x":{"field":"year","type":"quantitative","scale":{"domain":[1880,2013.5]},"axis":null},"y":{"field":"r","type":"quantitative","scale":{"domain":[-0.05,0.05]}}}},
{"data":{"name":"d"},"mark":{"type":"point","shape":"circle","filled":true,"size":36,"opacity":1,"color":"#ff8080"},"encoding":{"x":{"field":"year","type":"quantitative","scale":{"domain":[1880,2013.5]},"axis":null},"y":{"field":"r","type":"quantitative","scale":{"domain":[-0.05,0.05]}}}},
{"data":{"name":"dl"},"mark":{"type":"line","strokeWidth":2.6,"interpolate":"monotone","color":"#ff8080"},"encoding":{"x":{"field":"year","type":"quantitative","scale":{"domain":[1880,2013.5]},"axis":null},"y":{"field":"r","type":"quantitative","scale":{"domain":[-0.05,0.05]}}}},
{"data":{"values":[{"t":"d)"}]},"mark":{"type":"text","fontSize":16.5,"align":"left","baseline":"middle","color":"#000000"},"encoding":{"x":{"datum":1885.5,"type":"quantitative","scale":{"domain":[1880,2013.5]},"axis":null},"y":{"datum":0.043,"type":"quantitative","scale":{"domain":[-0.05,0.05]}},"text":{"field":"t"}}}
]}
]
}
